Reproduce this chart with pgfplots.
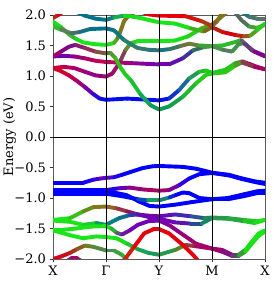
\documentclass[border=0pt]{standalone}
\usepackage{fontspec}
\setmainfont{DejaVu Serif}
\usepackage{pgfplots}
\pgfplotsset{compat=1.18}
\pgfplotsset{band/.style={mesh, line width=3.9bp, line cap=round, line join=round,
  point meta=explicit symbolic, mesh/color input=explicit, forget plot}}
\begin{document}
\begin{tikzpicture}[font=\fontsize{13bp}{15bp}\selectfont]
\begin{axis}[
  scale only axis, width=212bp, height=244bp,
  xmin=0, xmax=4, ymin=-2, ymax=2,
  xtick={0,1,2,3,4}, xticklabels={X,Γ,Y,M,X},
  ytick={-2,-1.5,-1,-0.5,0,0.5,1,1.5,2},
  yticklabels={−2.0,−1.5,−1.0,−0.5,0.0,0.5,1.0,1.5,2.0},
  tick align=outside, major tick length=3.5bp,
  xtick pos=bottom, ytick pos=left,
  tick style={black!80, line width=0.6bp},
  axis line style={black!65, line width=0.8bp},
  tick label style={font=\fontsize{13bp}{15bp}\selectfont},
  ylabel={Energy (eV)},
  every axis y label/.style={at={(axis description cs:-0.205,0.5)}, rotate=90, anchor=center, font=\fontsize{13bp}{15bp}\selectfont},
  clip=true,
]
% ---------- conduction bands ----------
\addplot[band] table[meta=c] {
x y c
0 1.13 rgb=0.85,0,0.1
0.15 1.08 rgb=0.85,0,0.15
0.3 1.01 rgb=0.8,0,0.2
0.45 0.92 rgb=0.7,0,0.35
0.6 0.82 rgb=0.55,0,0.55
0.75 0.71 rgb=0.3,0,0.8
0.88 0.63 rgb=0.1,0.05,0.9
1.0 0.61 rgb=0,0.05,0.95
1.2 0.62 rgb=0,0.05,0.95
1.4 0.63 rgb=0,0.05,0.95
1.6 0.62 rgb=0,0.05,0.95
1.8 0.61 rgb=0,0.05,0.95
2.0 0.60 rgb=0,0.05,0.95
2.19 0.63 rgb=0,0.1,0.9
2.38 0.77 rgb=0.1,0.3,0.7
2.57 0.96 rgb=0.1,0.5,0.5
2.76 1.07 rgb=0.15,0.7,0.2
2.89 1.09 rgb=0.1,0.8,0.1
3.0 1.05 rgb=0.1,0.8,0.1
3.25 1.10 rgb=0.1,0.8,0.1
3.44 1.21 rgb=0.2,0.75,0.1
3.57 1.24 rgb=0.45,0.4,0.25
3.7 1.20 rgb=0.65,0,0.4
3.85 1.15 rgb=0.65,0,0.4
4.0 1.11 rgb=0.65,0,0.4
};
\addplot[band] table[meta=c] {
x y c
0 1.13 rgb=0.85,0,0.15
0.2 1.15 rgb=0.75,0,0.3
0.4 1.13 rgb=0.7,0,0.35
0.6 1.07 rgb=0.6,0,0.5
0.8 1.01 rgb=0.55,0,0.55
1.0 0.99 rgb=0.6,0,0.45
1.12 1.04 rgb=0.65,0,0.4
1.25 1.21 rgb=0.6,0.1,0.4
1.37 1.43 rgb=0.45,0.4,0.25
1.47 1.54 rgb=0.3,0.7,0.15
1.6 1.57 rgb=0.1,0.9,0.1
1.8 1.57 rgb=0.1,0.9,0.1
2.0 1.57 rgb=0.1,0.9,0.1
2.3 1.58 rgb=0.1,0.9,0.1
2.55 1.65 rgb=0.1,0.85,0.1
2.8 1.78 rgb=0.2,0.8,0.1
3.0 1.84 rgb=0.4,0.5,0.1
3.15 1.95 rgb=0.5,0.45,0.1
3.3 2.06 rgb=0.5,0.45,0.1
};
\addplot[band] table[meta=c] {
x y c
0 1.32 rgb=0.4,0,0.75
0.2 1.33 rgb=0.4,0,0.75
0.4 1.32 rgb=0.55,0,0.55
0.6 1.29 rgb=0.65,0,0.4
0.8 1.25 rgb=0.75,0,0.35
1.0 1.23 rgb=0.8,0,0.3
1.25 1.22 rgb=0.7,0,0.4
1.5 1.21 rgb=0.6,0,0.5
1.75 1.20 rgb=0.5,0,0.65
2.0 1.19 rgb=0.45,0,0.7
2.19 1.19 rgb=0.45,0,0.7
2.45 1.29 rgb=0.3,0.1,0.7
2.64 1.42 rgb=0.2,0.3,0.5
2.83 1.47 rgb=0.2,0.55,0.3
3.0 1.49 rgb=0.2,0.7,0.2
3.2 1.50 rgb=0.15,0.75,0.15
3.45 1.56 rgb=0.15,0.75,0.15
3.55 1.59 rgb=0.3,0.6,0.3
3.75 1.42 rgb=0.45,0.1,0.6
4.0 1.33 rgb=0.45,0,0.65
};
\addplot[band] table[meta=c] {
x y c
0 1.32 rgb=0.7,0,0.35
0.15 1.40 rgb=0.6,0,0.45
0.3 1.48 rgb=0.45,0,0.6
0.42 1.51 rgb=0.5,0.1,0.5
0.6 1.46 rgb=0.6,0.1,0.4
0.8 1.40 rgb=0.55,0.25,0.3
1.0 1.37 rgb=0.45,0.4,0.2
1.09 1.37 rgb=0.4,0.5,0.2
1.18 1.29 rgb=0.25,0.7,0.15
1.28 1.13 rgb=0.15,0.8,0.1
1.37 1.02 rgb=0.15,0.8,0.1
1.47 0.93 rgb=0.1,0.8,0.15
1.65 0.70 rgb=0.1,0.7,0.3
1.84 0.52 rgb=0.05,0.6,0.35
2.0 0.45 rgb=0.05,0.6,0.35
2.19 0.50 rgb=0.05,0.6,0.35
2.45 0.66 rgb=0.1,0.65,0.25
2.7 0.88 rgb=0.15,0.8,0.1
2.89 1.02 rgb=0.15,0.8,0.1
3.0 1.04 rgb=0.15,0.8,0.1
3.25 1.06 rgb=0.15,0.8,0.1
3.44 1.17 rgb=0.2,0.75,0.1
3.57 1.22 rgb=0.45,0.45,0.2
3.8 1.15 rgb=0.65,0,0.4
4.0 1.11 rgb=0.65,0,0.4
};
\addplot[band] table[meta=c] {
x y c
0 1.89 rgb=0.1,0.9,0.1
0.15 1.80 rgb=0.1,0.85,0.1
0.32 1.67 rgb=0.3,0.6,0.3
0.45 1.60 rgb=0.1,0.85,0.1
0.57 1.55 rgb=0.1,0.9,0.1
0.8 1.52 rgb=0.1,0.9,0.1
1.0 1.51 rgb=0.1,0.9,0.1
1.15 1.54 rgb=0.2,0.8,0.1
1.22 1.62 rgb=0.35,0.55,0.15
1.28 1.75 rgb=0.5,0.45,0.1
1.34 1.90 rgb=0.5,0.45,0.1
1.42 1.98 rgb=0.5,0.45,0.1
1.5 2.03 rgb=0.5,0.45,0.1
1.6 2.06 rgb=0.5,0.45,0.1
};
\addplot[band] table[meta=c] {
x y c
0 1.81 rgb=0.1,0.85,0.1
0.15 1.76 rgb=0.3,0.6,0.3
0.35 1.70 rgb=0.4,0.4,0.4
0.5 1.72 rgb=0.2,0.45,0.45
0.7 1.77 rgb=0,0.45,0.55
1.0 1.78 rgb=0,0.45,0.55
1.15 1.75 rgb=0,0.45,0.55
1.34 1.59 rgb=0.1,0.5,0.45
1.59 1.46 rgb=0.2,0.5,0.4
1.8 1.43 rgb=0.25,0.45,0.45
2.0 1.42 rgb=0.1,0.45,0.5
2.2 1.44 rgb=0.1,0.45,0.5
2.4 1.49 rgb=0.35,0.45,0.3
2.57 1.53 rgb=0.5,0.45,0.2
2.75 1.50 rgb=0.3,0.55,0.25
3.0 1.49 rgb=0.2,0.7,0.2
3.2 1.43 rgb=0.35,0.5,0.35
3.38 1.40 rgb=0.35,0.45,0.4
3.5 1.52 rgb=0.2,0.7,0.2
3.6 1.54 rgb=0.35,0.4,0.4
3.8 1.40 rgb=0.45,0.05,0.6
4.0 1.32 rgb=0.55,0,0.5
};
\addplot[band] table[meta=c] {
x y c
0.45 2.05 rgb=0,0.45,0.55
0.6 1.99 rgb=0,0.45,0.55
0.8 1.94 rgb=0,0.45,0.55
1.0 1.92 rgb=0,0.45,0.55
1.15 1.96 rgb=0.05,0.55,0.45
1.35 1.99 rgb=0.1,0.8,0.2
1.6 1.96 rgb=0.1,0.9,0.1
1.8 1.92 rgb=0.1,0.9,0.1
2.0 1.88 rgb=0.1,0.9,0.1
2.3 1.86 rgb=0.1,0.9,0.1
2.6 1.78 rgb=0.1,0.85,0.1
2.85 1.73 rgb=0.4,0.55,0.1
3.0 1.80 rgb=0.6,0.25,0.1
3.2 1.72 rgb=0.85,0,0.05
3.45 1.67 rgb=0.85,0,0.05
3.6 1.65 rgb=0.7,0.2,0.1
3.72 1.66 rgb=0.5,0.45,0.1
3.85 1.75 rgb=0.2,0.8,0.1
4.0 1.86 rgb=0.1,0.85,0.1
};
\addplot[band] table[meta=c] {
x y c
1.65 2.06 rgb=0.9,0,0.05
1.8 2.01 rgb=0.9,0,0.05
2.0 1.99 rgb=0.9,0,0.05
2.5 1.98 rgb=0.9,0,0.05
2.8 1.90 rgb=0.75,0.15,0.05
3.0 1.82 rgb=0.6,0.3,0.1
3.1 1.90 rgb=0.5,0.45,0.1
3.2 2.05 rgb=0.5,0.45,0.1
};
\addplot[band] table[meta=c] {
x y c
3.42 2.06 rgb=0.35,0.4,0.4
3.55 1.92 rgb=0.35,0.4,0.4
3.7 1.81 rgb=0.3,0.5,0.3
3.85 1.79 rgb=0.2,0.75,0.15
4.0 1.84 rgb=0.15,0.8,0.1
};
\addplot[band] table[meta=c] {
x y c
3.55 2.06 rgb=0,0.45,0.55
3.7 1.97 rgb=0.2,0.45,0.45
3.85 1.94 rgb=0.35,0.45,0.4
4.0 1.94 rgb=0.35,0.45,0.4
};
\addplot[band] table[meta=c] {
x y c
0 1.95 rgb=0.6,0.3,0.1
0.1 2.0 rgb=0.85,0,0.1
0.2 2.06 rgb=0.85,0,0.1
};
% ---------- valence bands ----------
\addplot[band] table[meta=c] {
x y c
0 -0.75 rgb=0,0,1
0.3 -0.75 rgb=0,0,1
0.57 -0.75 rgb=0,0,1
0.76 -0.70 rgb=0.15,0,0.9
0.9 -0.68 rgb=0.35,0,0.75
1.0 -0.67 rgb=0.45,0,0.7
1.15 -0.66 rgb=0.2,0,0.9
1.3 -0.62 rgb=0,0,1
1.44 -0.58 rgb=0,0,1
1.69 -0.51 rgb=0,0,1
1.88 -0.48 rgb=0,0,1
2.0 -0.475 rgb=0,0,1
2.45 -0.49 rgb=0,0,1
2.7 -0.52 rgb=0,0,1
3.0 -0.585 rgb=0,0,1
3.32 -0.62 rgb=0,0,1
3.57 -0.68 rgb=0,0,1
3.82 -0.73 rgb=0,0,1
4.0 -0.75 rgb=0,0,1
};
\addplot[band] table[meta=c] {
x y c
0 -0.87 rgb=0,0,1
0.5 -0.87 rgb=0,0,1
1.0 -0.87 rgb=0,0,1
1.25 -0.84 rgb=0.3,0,0.8
1.45 -0.83 rgb=0.5,0,0.6
1.7 -0.86 rgb=0.65,0,0.4
2.0 -0.88 rgb=0.65,0,0.4
2.19 -0.87 rgb=0.6,0,0.45
2.38 -0.79 rgb=0.35,0,0.75
2.57 -0.68 rgb=0,0,1
2.76 -0.61 rgb=0,0,1
3.0 -0.59 rgb=0,0,1
3.32 -0.63 rgb=0,0,1
3.57 -0.69 rgb=0,0,1
3.82 -0.74 rgb=0,0,1
4.0 -0.77 rgb=0,0,1
};
\addplot[band] table[meta=c] {
x y c
0 -0.90 rgb=0,0,1
0.5 -0.90 rgb=0,0,1
1.0 -0.90 rgb=0,0,1
1.2 -0.92 rgb=0,0,1
1.38 -0.95 rgb=0,0,1
1.63 -1.06 rgb=0,0,1
1.82 -1.13 rgb=0,0,1
2.0 -1.14 rgb=0,0,1
2.3 -1.11 rgb=0,0,1
2.6 -1.07 rgb=0,0,1
3.0 -1.02 rgb=0,0,1
3.3 -1.00 rgb=0,0,1
3.6 -0.94 rgb=0,0,1
3.85 -0.89 rgb=0,0,1
4.0 -0.88 rgb=0,0,1
};
\addplot[band] table[meta=c] {
x y c
0 -0.93 rgb=0,0,1
0.5 -0.93 rgb=0,0,1
1.0 -0.93 rgb=0,0,1
1.3 -0.97 rgb=0,0,1
1.6 -1.02 rgb=0,0.1,0.9
1.8 -1.04 rgb=0.1,0.5,0.5
2.0 -1.04 rgb=0.1,0.7,0.3
2.2 -0.99 rgb=0.1,0.3,0.7
2.32 -0.95 rgb=0,0,1
2.45 -0.91 rgb=0,0,1
2.57 -0.92 rgb=0,0,1
2.76 -1.00 rgb=0,0,1
3.0 -1.02 rgb=0,0,1
3.3 -1.02 rgb=0,0,1
3.6 -0.97 rgb=0,0,1
3.85 -0.92 rgb=0,0,1
4.0 -0.92 rgb=0,0,1
};
\addplot[band] table[meta=c] {
x y c
0 -1.36 rgb=0.1,0.9,0.1
0.32 -1.33 rgb=0.1,0.9,0.1
0.57 -1.22 rgb=0.35,0.6,0.1
0.76 -1.15 rgb=0.45,0.5,0.1
1.0 -1.14 rgb=0.55,0.45,0.1
1.2 -1.17 rgb=0.6,0.3,0.2
1.4 -1.22 rgb=0.6,0.1,0.35
1.6 -1.27 rgb=0.6,0,0.45
1.8 -1.29 rgb=0.5,0,0.6
2.0 -1.30 rgb=0.45,0,0.7
2.3 -1.27 rgb=0.3,0.1,0.75
2.6 -1.30 rgb=0.2,0.2,0.7
2.85 -1.33 rgb=0.15,0.45,0.45
3.0 -1.32 rgb=0.15,0.6,0.3
3.3 -1.33 rgb=0.15,0.6,0.3
3.6 -1.36 rgb=0.15,0.7,0.2
3.85 -1.38 rgb=0.1,0.85,0.1
4.0 -1.36 rgb=0.1,0.9,0.1
};
\addplot[band] table[meta=c] {
x y c
0 -1.37 rgb=0.1,0.9,0.1
0.32 -1.39 rgb=0.1,0.9,0.1
0.57 -1.44 rgb=0.1,0.9,0.1
0.82 -1.41 rgb=0.1,0.7,0.3
1.0 -1.44 rgb=0,0.5,0.5
1.25 -1.33 rgb=0,0.5,0.5
1.45 -1.28 rgb=0.1,0.35,0.6
1.6 -1.27 rgb=0.3,0.1,0.7
1.8 -1.31 rgb=0.45,0,0.7
2.0 -1.34 rgb=0.45,0,0.7
2.3 -1.40 rgb=0.45,0,0.7
2.6 -1.42 rgb=0.3,0.15,0.65
2.8 -1.42 rgb=0,0.45,0.5
3.0 -1.33 rgb=0.15,0.6,0.3
3.3 -1.34 rgb=0.15,0.6,0.3
3.6 -1.38 rgb=0.15,0.7,0.2
3.8 -1.41 rgb=0.1,0.85,0.1
3.92 -1.38 rgb=0.1,0.9,0.1
4.0 -1.36 rgb=0.1,0.9,0.1
};
\addplot[band] table[meta=c] {
x y c
0 -1.52 rgb=0.1,0.9,0.1
0.2 -1.52 rgb=0.1,0.9,0.1
0.44 -1.50 rgb=0.1,0.9,0.1
0.69 -1.47 rgb=0.1,0.9,0.1
1.0 -1.46 rgb=0.1,0.9,0.1
1.1 -1.50 rgb=0.1,0.85,0.1
1.2 -1.57 rgb=0.3,0.5,0.35
1.3 -1.60 rgb=0.4,0.2,0.55
1.45 -1.53 rgb=0.45,0,0.7
1.6 -1.44 rgb=0.45,0,0.7
1.8 -1.38 rgb=0.45,0,0.7
2.0 -1.37 rgb=0.45,0,0.7
2.2 -1.45 rgb=0.5,0,0.6
2.45 -1.60 rgb=0.6,0,0.5
2.7 -1.75 rgb=0.65,0,0.4
3.0 -1.83 rgb=0.65,0,0.4
3.19 -1.85 rgb=0.65,0,0.4
3.38 -1.93 rgb=0.45,0.1,0.55
3.5 -1.93 rgb=0.3,0.4,0.3
3.63 -1.85 rgb=0.1,0.85,0.1
3.75 -1.72 rgb=0.1,0.9,0.1
3.88 -1.58 rgb=0.1,0.9,0.1
4.0 -1.53 rgb=0.1,0.9,0.1
};
\addplot[band] table[meta=c] {
x y c
0 -1.53 rgb=0.1,0.9,0.1
0.32 -1.61 rgb=0.1,0.9,0.1
0.57 -1.66 rgb=0.1,0.9,0.1
0.82 -1.63 rgb=0.1,0.9,0.1
1.0 -1.64 rgb=0.1,0.9,0.1
1.2 -1.66 rgb=0.1,0.9,0.1
1.4 -1.75 rgb=0.1,0.85,0.1
1.6 -1.84 rgb=0.1,0.7,0.3
1.8 -1.90 rgb=0.1,0.6,0.35
2.0 -1.93 rgb=0.1,0.6,0.35
2.31 -1.85 rgb=0.2,0.6,0.2
2.5 -1.77 rgb=0.5,0.45,0.1
2.69 -1.79 rgb=0.65,0,0.4
3.0 -1.83 rgb=0.65,0,0.4
3.19 -1.88 rgb=0.6,0,0.45
3.38 -1.95 rgb=0.45,0.1,0.55
3.5 -1.95 rgb=0.3,0.4,0.3
3.63 -1.88 rgb=0.1,0.85,0.1
3.75 -1.75 rgb=0.1,0.9,0.1
3.88 -1.62 rgb=0.1,0.9,0.1
4.0 -1.55 rgb=0.1,0.9,0.1
};
\addplot[band] table[meta=c] {
x y c
0 -2.0 rgb=0.85,0,0.1
0.15 -1.96 rgb=0.85,0,0.1
0.32 -1.90 rgb=0.75,0.1,0.1
0.45 -1.84 rgb=0.6,0.25,0.1
0.6 -1.78 rgb=0.5,0.45,0.1
0.76 -1.80 rgb=0.35,0.55,0.2
1.0 -1.86 rgb=0.3,0.55,0.3
1.15 -1.86 rgb=0.3,0.55,0.3
1.3 -1.93 rgb=0.2,0.7,0.2
1.45 -2.06 rgb=0.2,0.7,0.2
};
\addplot[band] table[meta=c] {
x y c
0.25 -2.04 rgb=0.65,0,0.4
0.35 -1.99 rgb=0.65,0,0.4
0.45 -1.99 rgb=0.65,0,0.4
0.55 -2.04 rgb=0.65,0,0.4
};
\addplot[band] table[meta=c] {
x y c
1.25 -2.08 rgb=0.6,0.35,0.05
1.34 -2.02 rgb=0.75,0.25,0.05
1.53 -1.80 rgb=0.9,0,0.05
1.72 -1.58 rgb=0.9,0,0.05
1.9 -1.51 rgb=0.9,0,0.05
2.0 -1.51 rgb=0.9,0,0.05
2.19 -1.58 rgb=0.9,0,0.05
2.45 -1.77 rgb=0.9,0,0.05
2.64 -1.93 rgb=0.9,0,0.05
2.76 -2.05 rgb=0.9,0,0.05
};
% ---------- reference lines ----------
\addplot[black, line width=0.8bp, forget plot] coordinates {(0,0) (4,0)};
\addplot[black, line width=0.8bp, forget plot] coordinates {(1,-2) (1,2)};
\addplot[black, line width=0.8bp, forget plot] coordinates {(2,-2) (2,2)};
\addplot[black, line width=0.8bp, forget plot] coordinates {(3,-2) (3,2)};
\end{axis}
\pgfresetboundingbox
\path[use as bounding box] ([shift={(-53bp,-24bp)}]current axis.south west) rectangle ([shift={(8bp,15bp)}]current axis.north east);
\end{tikzpicture}
\end{document}
